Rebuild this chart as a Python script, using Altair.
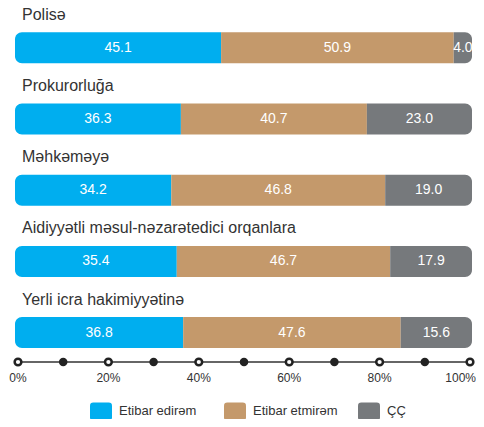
import altair as alt
import pandas as pd

categories = ["Polisə", "Prokurorluğa", "Məhkəməyə",
              "Aidiyyətli məsul-nəzarətedici orqanlara", "Yerli icra hakimiyyətinə"]
series = ["Etibar edirəm", "Etibar etmirəm", "ÇÇ"]
trust = [45.1, 36.3, 34.2, 35.4, 36.8]
distrust = [50.9, 40.7, 46.8, 46.7, 47.6]
dont_know = [4.0, 23.0, 19.0, 17.9, 15.6]
colors = ["#00AEEF", "#C4996B", "#76797C"]

major_ticks = [0, 20, 40, 60, 80, 100]
minor_ticks = [10, 30, 50, 70, 90]
tick_labels = ["0%", "20%", "40%", "60%", "80%", "100%"]

FONT = "Liberation Sans"

rows = []
for i, c in enumerate(categories):
    start = 0.0
    for s, v in zip(series, [trust[i], distrust[i], dont_know[i]]):
        rows.append({"cat": c, "series": s, "value": v, "start": start,
                     "end": start + v, "mid": start + v / 2})
        start += v
df = pd.DataFrame(rows)
cat_df = pd.DataFrame({"cat": categories})
major_df = pd.DataFrame({"p": major_ticks, "label": tick_labels})
minor_df = pd.DataFrame({"p": minor_ticks})
line_df = pd.DataFrame({"a": [major_ticks[0]], "b": [major_ticks[-1]]})

xscale = alt.Scale(domain=[0, 100], range=[0, 457], nice=False, zero=False)
axscale = alt.Scale(domain=[0, 100], range=[3, 455], nice=False, zero=False)
yscale = alt.Scale(domain=categories, range=[4.2, 360.2], paddingInner=0, paddingOuter=0)
cscale = alt.Scale(domain=series, range=colors)

rr = "M-0.7,-0.82 L0.7,-0.82 Q1,-0.82 1,-0.52 L1,0.52 Q1,0.82 0.7,0.82 L-0.7,0.82 Q-1,0.82 -1,0.52 L-1,-0.52 Q-1,-0.82 -0.7,-0.82 Z"

legend = alt.Legend(title=None, orient="none", legendX=75, legendY=392, direction="horizontal",
                    symbolType=rr, symbolSize=484, symbolStrokeWidth=0, symbolOpacity=1,
                    labelFont=FONT, labelFontSize=13, labelColor="#333333", labelOffset=7,
                    columnPadding=20, gridAlign="all", padding=0)

def bar_layer(s, **kw):
    return alt.Chart(df).transform_filter(alt.datum.series == s).mark_bar(size=31, **kw).encode(
        x=alt.X("start:Q", scale=xscale, axis=None),
        x2="end:Q",
        y=alt.Y("cat:N", scale=yscale, axis=None),
        color=alt.Color("series:N", scale=cscale, legend=legend),
    )

b1 = bar_layer(series[0], cornerRadiusTopLeft=7, cornerRadiusBottomLeft=7)
b2 = bar_layer(series[1])
b3 = bar_layer(series[2], cornerRadiusTopRight=7, cornerRadiusBottomRight=7)

vals = alt.Chart(df).mark_text(color="white", font=FONT, fontSize=14, baseline="middle").encode(
    x=alt.X("mid:Q", scale=xscale, axis=None),
    y=alt.Y("cat:N", scale=yscale, axis=None),
    text=alt.Text("value:Q", format=".1f"),
)

names = alt.Chart(cat_df).mark_text(font=FONT, fontSize=16, color="#333333", align="left",
                                    baseline="alphabetic", dy=-28).encode(
    x=alt.value(7),
    y=alt.Y("cat:N", scale=yscale, axis=None),
    text="cat:N",
)

axis_line = alt.Chart(line_df).mark_rule(color="#666666", strokeWidth=2).encode(
    x=alt.X("a:Q", scale=axscale, axis=None), x2="b:Q", y=alt.value(354))

minor_pts = alt.Chart(minor_df).mark_point(shape="circle", filled=True, color="#222222",
                                           size=72, opacity=1).encode(
    x=alt.X("p:Q", scale=axscale, axis=None), y=alt.value(354))

major_pts = alt.Chart(major_df).mark_point(shape="circle", filled=True, fill="white",
                                           stroke="#222222", strokeWidth=2.5, size=45,
                                           opacity=1).encode(
    x=alt.X("p:Q", scale=axscale, axis=None), y=alt.value(354))

tick_text = alt.Chart(major_df).transform_filter(alt.datum.p < 100).mark_text(
    font=FONT, fontSize=12, color="#333333", baseline="middle").encode(
    x=alt.X("p:Q", scale=axscale, axis=None), y=alt.value(370), text="label:N")

tick_last = alt.Chart(major_df).transform_filter(alt.datum.p == 100).mark_text(
    font=FONT, fontSize=12, color="#333333", baseline="middle", align="right", dx=6).encode(
    x=alt.X("p:Q", scale=axscale, axis=None), y=alt.value(370), text="label:N")

chart = alt.layer(b1, b2, b3, vals, names, axis_line, minor_pts, major_pts, tick_text,
                  tick_last).resolve_scale(x="independent").properties(
    width=457, height=411,
    autosize=alt.AutoSizeParams(type="none"),
    padding={"left": 7, "top": 0, "right": 4, "bottom": 0},
).configure_view(stroke=None)

chart.save("out.html", embed_options={"renderer": "svg", "actions": False})
